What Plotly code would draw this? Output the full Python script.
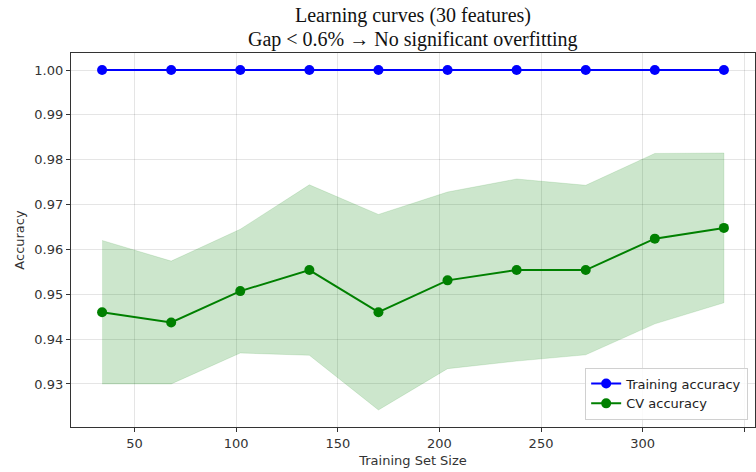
import plotly.graph_objects as go

# Learning curve results (30 features)
train_sizes = [34, 68, 102, 136, 170, 204, 238, 272, 306, 340]
train_mean = [1.0, 1.0, 1.0, 1.0, 1.0, 1.0, 1.0, 1.0, 1.0, 1.0]
cv_mean = [0.9460, 0.9437, 0.9507, 0.9554, 0.9460, 0.9531, 0.9554, 0.9554, 0.9624, 0.9648]
cv_std = [0.0160, 0.0137, 0.0138, 0.0190, 0.0218, 0.0197, 0.0203, 0.0189, 0.0190, 0.0167]
y_ticks = [0.93, 0.94, 0.95, 0.96, 0.97, 0.98, 0.99, 1.00]
x_ticks = [50, 100, 150, 200, 250, 300, 350]
title_lines = ["Learning curves (30 features)", "Gap &lt; 0.6% → No significant overfitting"]

cv_upper = [m + s for m, s in zip(cv_mean, cv_std)]
cv_lower = [m - s for m, s in zip(cv_mean, cv_std)]

BLUE = "#0000ff"
GREEN = "#008000"
BAND = "rgba(0,128,0,0.2)"
tick_font = dict(family="DejaVu Sans", size=13, color="#333333")

fig = go.Figure()

# +/- 1 std band around the CV curve
fig.add_trace(go.Scatter(
    x=train_sizes + train_sizes[::-1],
    y=cv_upper + cv_lower[::-1],
    fill="toself", fillcolor=BAND,
    line=dict(color="rgba(0,128,0,0.12)", width=1),
    hoverinfo="skip", showlegend=False,
))

fig.add_trace(go.Scatter(
    x=train_sizes, y=train_mean, mode="lines+markers",
    name="Training accuracy",
    line=dict(color=BLUE, width=2),
    marker=dict(color=BLUE, size=10),
))
fig.add_trace(go.Scatter(
    x=train_sizes, y=cv_mean, mode="lines+markers",
    name="CV accuracy",
    line=dict(color=GREEN, width=2),
    marker=dict(color=GREEN, size=10),
))

# Two-line title centred over the plotting area
for text, ypos in zip(title_lines, [1.100, 1.035]):
    fig.add_annotation(
        text=text, xref="paper", yref="paper", x=0.5, y=ypos,
        xanchor="center", yanchor="middle", showarrow=False,
        font=dict(family="Liberation Serif", size=20, color="#111111"),
    )

fig.update_layout(
    width=756, height=472,
    margin=dict(l=71, r=1, t=53, b=45),
    paper_bgcolor="white", plot_bgcolor="white",
    legend=dict(
        x=0.99, xanchor="right", y=0.02, yanchor="bottom",
        bgcolor="rgba(255,255,255,0.85)", bordercolor="#d0d0d0", borderwidth=1,
        font=dict(family="DejaVu Sans", size=13, color="#222222"),
        tracegroupgap=0, itemwidth=30,
    ),
    xaxis=dict(
        range=[18.7, 355.3],
        tickvals=x_ticks, ticktext=[str(v) for v in x_ticks],
        showgrid=True, gridcolor="rgba(0,0,0,0.1)", gridwidth=1,
        showline=True, linecolor="#333333", linewidth=1.2, mirror=True,
        ticks="outside", ticklen=4, tickcolor="#333333",
        tickfont=tick_font, zeroline=False,
        title=dict(text="Training Set Size", font=dict(family="DejaVu Sans", size=13, color="#333333"), standoff=6),
    ),
    yaxis=dict(
        range=[0.9204, 1.0038],
        tickvals=y_ticks, ticktext=[f"{v:.2f}" for v in y_ticks],
        showgrid=True, gridcolor="rgba(0,0,0,0.1)", gridwidth=1,
        showline=True, linecolor="#333333", linewidth=1.2, mirror=True,
        ticks="outside", ticklen=4, tickcolor="#333333",
        tickfont=tick_font, zeroline=False,
        title=dict(text="Accuracy", font=dict(family="DejaVu Sans", size=13, color="#333333"), standoff=6),
    ),
)

fig.write_html("out.html")
